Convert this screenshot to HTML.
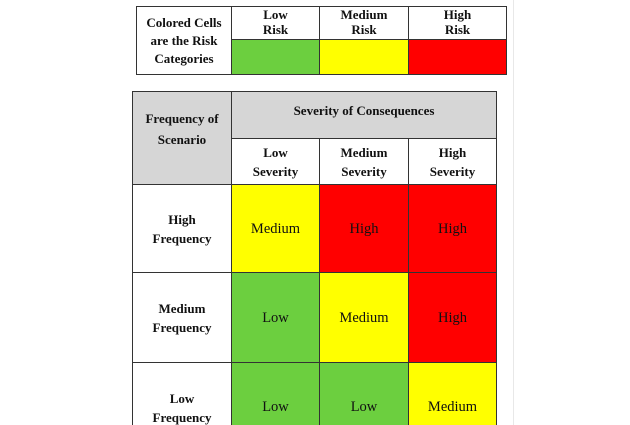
<!DOCTYPE html>
<html style="width:630px;height:425px;overflow:hidden"><head><meta charset="utf-8"><style>
html,body{margin:0;width:630px;height:425px;overflow:hidden}
body{background:#fff;position:relative;font-family:"Liberation Serif",serif;color:#111}
.c{position:absolute;box-sizing:border-box;border:1.5px solid #333;display:flex;align-items:center;justify-content:center;text-align:center;line-height:16px;font-size:14.5px}
.b{font-weight:bold;font-size:13px;line-height:17px}
.g{background:#6ccf3f}.y{background:#ffff00}.r{background:#ff0000}.gr{background:#d6d6d6}
.last{height:63px;border-bottom:none;align-items:flex-start}
.vl{position:absolute;left:513px;top:0;width:1px;height:425px;background:#e8e8e8}
</style></head><body>
<div class="vl"></div>
<div class="c b" style="left:136px;top:6px;width:96px;height:69px;line-height:18px">Colored Cells<br>are the Risk<br>Categories</div>
<div class="c b" style="left:231px;top:6px;width:89px;height:34px;align-items:flex-start;line-height:15px">Low<br>Risk</div>
<div class="c b" style="left:319px;top:6px;width:90px;height:34px;align-items:flex-start;line-height:15px">Medium<br>Risk</div>
<div class="c b" style="left:408px;top:6px;width:99px;height:34px;align-items:flex-start;line-height:15px">High<br>Risk</div>
<div class="c g" style="left:231px;top:39px;width:89px;height:36px"></div>
<div class="c y" style="left:319px;top:39px;width:90px;height:36px"></div>
<div class="c r" style="left:408px;top:39px;width:99px;height:36px"></div>

<div class="c b gr" style="left:132px;top:91px;width:100px;height:94px;padding-bottom:18px;line-height:21px">Frequency of<br>Scenario</div>
<div class="c b gr" style="left:231px;top:91px;width:266px;height:48px;padding-bottom:10px">Severity of Consequences</div>
<div class="c b" style="left:231px;top:138px;width:89px;height:47px;line-height:19px">Low<br>Severity</div>
<div class="c b" style="left:319px;top:138px;width:90px;height:47px;line-height:19px">Medium<br>Severity</div>
<div class="c b" style="left:408px;top:138px;width:89px;height:47px;line-height:19px">High<br>Severity</div>

<div class="c b" style="left:132px;top:184px;width:100px;height:89px;line-height:19px">High<br>Frequency</div>
<div class="c y" style="left:231px;top:184px;width:89px;height:89px">Medium</div>
<div class="c r" style="left:319px;top:184px;width:90px;height:89px">High</div>
<div class="c r" style="left:408px;top:184px;width:89px;height:89px">High</div>

<div class="c b" style="left:132px;top:272px;width:100px;height:91px;line-height:19px">Medium<br>Frequency</div>
<div class="c g" style="left:231px;top:272px;width:89px;height:91px">Low</div>
<div class="c y" style="left:319px;top:272px;width:90px;height:91px">Medium</div>
<div class="c r" style="left:408px;top:272px;width:89px;height:91px">High</div>

<div class="c b last" style="left:132px;top:362px;width:100px;line-height:19px;padding-top:26px">Low<br>Frequency</div>
<div class="c g last" style="left:231px;top:362px;width:89px;padding-top:36px">Low</div>
<div class="c g last" style="left:319px;top:362px;width:90px;padding-top:36px">Low</div>
<div class="c y last" style="left:408px;top:362px;width:89px;padding-top:36px">Medium</div>
</body></html>
